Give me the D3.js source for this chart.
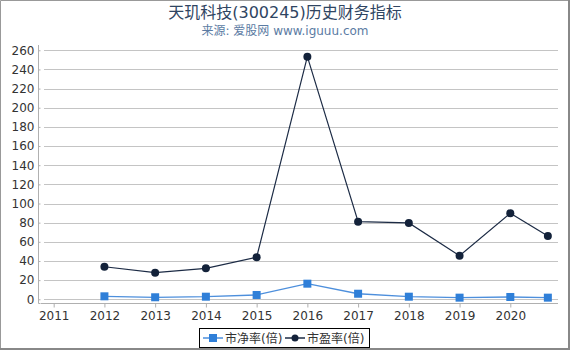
<!DOCTYPE html>
<html>
<head>
<meta charset="utf-8">
<script src="https://cdn.jsdelivr.net/npm/d3@7"></script>
<style>
  body { margin: 0; background: #fff; }
  svg { display: block; font-family: "DejaVu Sans", "Noto Sans CJK SC", sans-serif; }
</style>
</head>
<body>
<svg id="chart" width="570" height="350"></svg>
<script>
// data
const years = [2012, 2013, 2014, 2015, 2016, 2017, 2018, 2019, 2020, 2020.74];
const pbValues = [3.1, 2.1, 2.7, 4.5, 16.3, 5.8, 2.7, 1.7, 2.4, 1.7];
const peValues = [34.0, 27.8, 32.3, 43.9, 253.3, 81.0, 79.7, 45.5, 89.8, 66.1];
const xTicks = [2011, 2012, 2013, 2014, 2015, 2016, 2017, 2018, 2019, 2020];
const yTicks = d3.range(0, 261, 20);
const seriesNames = ["市净率(倍)", "市盈率(倍)"];

const svg = d3.select("#chart");
const width = +svg.attr("width");
const height = +svg.attr("height");
const font = `"DejaVu Sans", "Noto Sans CJK SC", sans-serif`;

// ──────────────────────
// scales
// ──────────────────────
const x = d3.scaleLinear().domain([2010.75, 2020.94]).range([41, 558]);
const y = d3.scaleLinear().domain([-4.4, 265.5]).range([303.5, 45]);

// ──────────────────────
// title
// ──────────────────────
svg.append("text")
  .attr("x", 285).attr("y", 18)
  .attr("text-anchor", "middle")
  .attr("font-size", "16px")
  .attr("fill", "#2f4562")
  .text("天玑科技(300245)历史财务指标");

svg.append("text")
  .attr("x", 285).attr("y", 35)
  .attr("text-anchor", "middle")
  .attr("font-size", "12px")
  .attr("fill", "#5b7ba3")
  .text("来源: 爱股网 www.iguuu.com");

// ──────────────────────
// grid + axes
// ──────────────────────
svg.append("g")
  .selectAll("line")
  .data(yTicks)
  .join("line")
  .attr("x1", 44).attr("x2", 558)
  .attr("y1", d => Math.round(y(d)) + 0.5)
  .attr("y2", d => Math.round(y(d)) + 0.5)
  .attr("stroke", "#c4c4c4");

const yAxis = svg.append("g")
  .attr("transform", "translate(40.5,0)")
  .call(d3.axisLeft(y).tickValues(yTicks).tickSize(2).tickPadding(4));
yAxis.select(".domain").attr("d", "M-2,45V303.5H0").attr("stroke", "#b0b0b0");
yAxis.selectAll(".tick line").attr("stroke", "#b0b0b0");
yAxis.selectAll("text").attr("font-size", "12px").attr("fill", "#333").attr("font-family", font);

const xAxis = svg.append("g")
  .attr("transform", "translate(0,303.5)")
  .call(d3.axisBottom(x).tickValues(xTicks).tickFormat(d3.format("d")).tickSize(4).tickPadding(4));
xAxis.select(".domain").attr("d", "M41,0H558").attr("stroke", "#b0b0b0");
xAxis.selectAll(".tick line").attr("stroke", "#b0b0b0");
xAxis.selectAll("text").attr("font-size", "12px").attr("fill", "#333").attr("font-family", font);

// ──────────────────────
// series
// ──────────────────────
const pb = years.map((t, i) => ({ t, v: pbValues[i] }));
const pe = years.map((t, i) => ({ t, v: peValues[i] }));
const line = d3.line().x(d => x(d.t)).y(d => y(d.v));

svg.append("path")
  .datum(pb)
  .attr("d", line)
  .attr("fill", "none")
  .attr("stroke", "#4d8fdc")
  .attr("stroke-width", 1.3);

svg.append("g")
  .selectAll("rect")
  .data(pb)
  .join("rect")
  .attr("x", d => x(d.t) - 4)
  .attr("y", d => y(d.v) - 4)
  .attr("width", 8).attr("height", 8)
  .attr("fill", "#2f7fd8");

svg.append("path")
  .datum(pe)
  .attr("d", line)
  .attr("fill", "none")
  .attr("stroke", "#1c2b45")
  .attr("stroke-width", 1.2);

svg.append("g")
  .selectAll("circle")
  .data(pe)
  .join("circle")
  .attr("cx", d => x(d.t))
  .attr("cy", d => y(d.v))
  .attr("r", 4)
  .attr("fill", "#13223a");

// ──────────────────────
// legend
// ──────────────────────
const legend = svg.append("g");
legend.append("rect")
  .attr("x", 199.5).attr("y", 328.5)
  .attr("width", 170).attr("height", 19)
  .attr("fill", "#fff")
  .attr("stroke", "#000");

const items = legend.selectAll("g.item")
  .data(seriesNames)
  .join("g")
  .attr("class", "item")
  .attr("transform", (d, i) => `translate(${203 + i * 82},338)`);

items.append("line")
  .attr("x1", 0).attr("x2", 20)
  .attr("stroke", (d, i) => i === 0 ? "#4d8fdc" : "#1c2b45")
  .attr("stroke-width", 1.5);

items.each(function (d, i) {
  const g = d3.select(this);
  if (i === 0) {
    g.append("rect").attr("x", 6).attr("y", -4).attr("width", 8).attr("height", 8).attr("fill", "#2f7fd8");
  } else {
    g.append("circle").attr("cx", 10).attr("r", 3.5).attr("fill", "#13223a");
  }
});

items.append("text")
  .attr("x", 22).attr("y", 4.5)
  .attr("font-size", "12px")
  .attr("fill", "#333")
  .text(d => d);

// ──────────────────────
// frame
// ──────────────────────
svg.append("path")
  .attr("d", `M0.5,${height}V0.5H${width}`)
  .attr("fill", "none")
  .attr("stroke", "#999");
svg.append("path")
  .attr("d", `M0,${height - 1}H${width - 1}V0`)
  .attr("fill", "none")
  .attr("stroke", "#888")
  .attr("stroke-width", 2);
</script>
</body>
</html>
